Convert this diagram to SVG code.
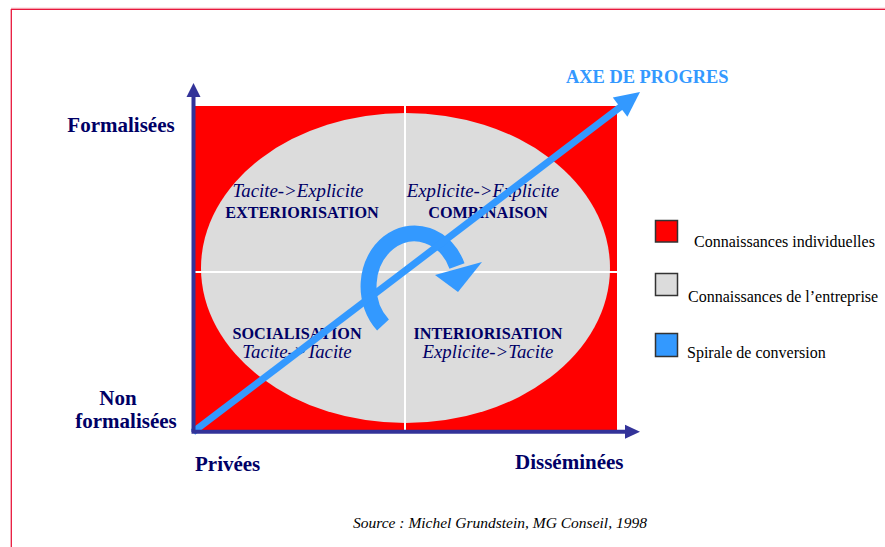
<svg xmlns="http://www.w3.org/2000/svg" width="885" height="547" viewBox="0 0 885 547">
  <defs>
    <style>
      .lbl { font-family: "Liberation Serif", "Times New Roman", serif; fill: #000066; }
      .axis-lbl { font-size: 21px; font-weight: bold; }
      .q-it { font-size: 18.8px; font-style: italic; }
      .q-b { font-size: 16.2px; font-weight: bold; }
      .leg { font-family: "Liberation Serif", "Times New Roman", serif; font-size: 16px; fill: #000000; }
      .legbox { stroke: #333333; stroke-width: 1.5; }
      .axis { stroke: #333399; stroke-width: 4; fill: none; }
      .axishead { fill: #333399; }
      .blue { fill: #3399FF; }
    </style>
  </defs>
  <rect width="885" height="547" fill="#ffffff"/>
  <!-- frame -->
  <g id="frame">
    <line x1="11" y1="8.3" x2="885" y2="8.3" stroke="#F28A9A" stroke-width="1"/>
    <line x1="11" y1="9.5" x2="885" y2="9.5" stroke="#E8173C" stroke-width="1.2"/>
    <line x1="11.3" y1="9" x2="11.3" y2="547" stroke="#E8173C" stroke-width="1.3"/>
  </g>
  <!-- matrix background -->
  <g id="matrix">
    <rect x="195" y="106" width="422" height="324" fill="#FF0000"/>
    <ellipse cx="405.5" cy="268" rx="204.5" ry="155" fill="#DCDCDC"/>
    <line x1="405" y1="106" x2="405" y2="432" stroke="#ffffff" stroke-width="2"/>
    <line x1="194" y1="272" x2="617" y2="272" stroke="#ffffff" stroke-width="2"/>
  </g>
  <!-- quadrant texts -->
  <g id="exteriorisation" class="lbl" text-anchor="middle">
    <text x="298" y="197" class="q-it">Tacite-&gt;Explicite</text>
    <text x="302" y="218" class="q-b">EXTERIORISATION</text>
  </g>
  <g id="combinaison" class="lbl" text-anchor="middle">
    <text x="483" y="197" class="q-it">Explicite-&gt;Explicite</text>
    <text x="488" y="218" class="q-b">COMBINAISON</text>
  </g>
  <g id="socialisation" class="lbl" text-anchor="middle">
    <text x="297" y="339" class="q-b">SOCIALISATION</text>
    <text x="297" y="358" class="q-it">Tacite-&gt;Tacite</text>
  </g>
  <g id="interiorisation" class="lbl" text-anchor="middle">
    <text x="488" y="339" class="q-b">INTERIORISATION</text>
    <text x="488" y="358" class="q-it">Explicite-&gt;Tacite</text>
  </g>
  <!-- spiral -->
  <g id="spiral">
    <path d="M383,325 A46,53 0 1 1 457,266" fill="none" stroke="#3399FF" stroke-width="16"/>
    <polygon class="blue" points="435,275 482,262 458,292"/>
  </g>
  <!-- connectors -->
  <g id="connectors">
    <line x1="193" y1="432" x2="621" y2="106.5" stroke="#3399FF" stroke-width="7"/>
    <polygon class="blue" points="640,92 612.8,97.5 627.4,116.7"/>
    <line class="axis" x1="193.5" y1="432" x2="193.5" y2="96"/>
    <polygon class="axishead" points="193.5,83 186.5,97 200.5,97"/>
    <line class="axis" x1="191.5" y1="431.7" x2="626" y2="431.7"/>
    <polygon class="axishead" points="640,431.7 625,424.7 625,438.7"/>
  </g>
  <!-- axis labels -->
  <g id="axe-progres">
    <text x="566" y="83" font-family="Liberation Serif, Times New Roman, serif" font-size="18.4" font-weight="bold" fill="#3399FF">AXE DE PROGRES</text>
  </g>
  <g id="formalisees" class="lbl axis-lbl" text-anchor="middle">
    <text x="121" y="132">Formalisées</text>
  </g>
  <g id="non-formalisees" class="lbl axis-lbl" text-anchor="middle">
    <text x="118" y="405">Non</text>
    <text x="126" y="428">formalisées</text>
  </g>
  <g id="privees" class="lbl axis-lbl">
    <text x="195" y="471">Privées</text>
  </g>
  <g id="disseminees" class="lbl axis-lbl">
    <text x="515" y="469">Disséminées</text>
  </g>
  <!-- legend -->
  <g id="legend-individuelles">
    <rect class="legbox" x="655.5" y="220.5" width="22" height="21.5" fill="#FF0000"/>
    <text class="leg" x="694" y="247">Connaissances individuelles</text>
  </g>
  <g id="legend-entreprise">
    <rect class="legbox" x="655.5" y="273.5" width="22" height="22" fill="#DCDCDC"/>
    <text class="leg" x="688" y="302">Connaissances de l’entreprise</text>
  </g>
  <g id="legend-spirale">
    <rect class="legbox" x="655.5" y="333.5" width="22" height="23" fill="#3399FF"/>
    <text class="leg" x="687" y="358">Spirale de conversion</text>
  </g>
  <!-- source -->
  <g id="source">
    <text x="353" y="528" font-family="Liberation Serif, Times New Roman, serif" font-size="15.5" font-style="italic" fill="#000000">Source : Michel Grundstein, MG Conseil, 1998</text>
  </g>
</svg>
